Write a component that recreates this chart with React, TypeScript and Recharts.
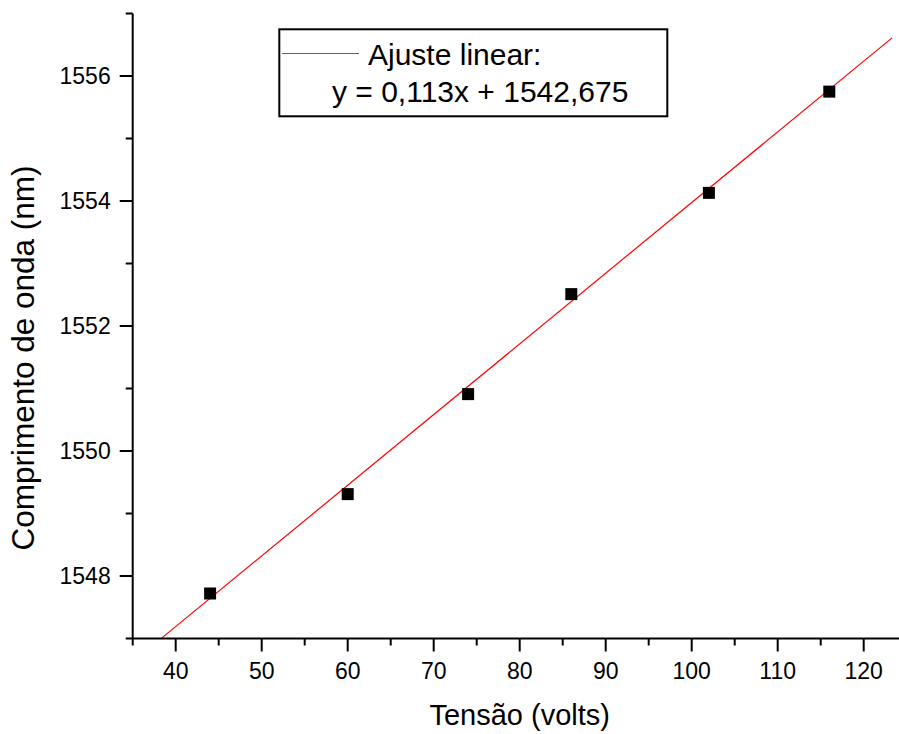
import React from 'react';
import { ComposedChart, Label, ReferenceLine, Scatter, XAxis, YAxis } from 'recharts';

// measured points (tension in volts, wavelength in nm)
const voltage = [44, 60, 74, 86, 102, 116];
const wavelength = [1547.72, 1549.31, 1550.91, 1552.51, 1554.13, 1555.75];

// ends of the fitted line as they appear on the plot
const fitX = [38.4, 123.3];
const fitY = [1547.01, 1556.61];

const xTicks = [35, 40, 45, 50, 55, 60, 65, 70, 75, 80, 85, 90, 95, 100, 105, 110, 115, 120, 125];
const yTicks = [1547, 1548, 1549, 1550, 1551, 1552, 1553, 1554, 1555, 1556, 1557];

const legendTitle = 'Ajuste linear:';
const legendEquation = 'y = 0,113x + 1542,675';

const FONT = '"Liberation Sans", Arial, sans-serif';

const points = voltage.map((v, i) => ({ x: v, y: wavelength[i] }));
const fitSegment = fitX.map((x, i) => ({ x, y: fitY[i] }));

const XTick = (props: any) => {
    const { x, y, payload } = props;
    const major = payload.value % 10 === 0;
    return (
        <g>
            <line x1={x} x2={x} y1={y} y2={y + (major ? 13 : 7)} stroke="#000" strokeWidth={2} />
            {major && (
                <text x={x} y={y + 40.5} textAnchor="middle" fontSize={23} fontFamily={FONT} fill="#000">
                    {payload.value}
                </text>
            )}
        </g>
    );
};

const YTick = (props: any) => {
    const { x, y, payload } = props;
    const major = payload.value % 2 === 0;
    return (
        <g>
            <line x1={x - (major ? 13 : 7)} x2={x} y1={y} y2={y} stroke="#000" strokeWidth={2} />
            {major && (
                <text x={x - 22} y={y + 8} textAnchor="end" fontSize={23} fontFamily={FONT} fill="#000">
                    {payload.value}
                </text>
            )}
        </g>
    );
};

const SquareMarker = (props: any) => {
    const { cx, cy } = props;
    return <rect x={cx - 6} y={cy - 6} width={12} height={12} fill="#000" />;
};

export default function App() {
    return (
        <div
            style={{
                position: 'absolute',
                left: 0,
                top: 0,
                width: 899,
                height: 734,
                overflow: 'hidden',
                background: '#fff',
                fontFamily: FONT,
            }}
        >
            <ComposedChart
                width={915}
                height={734}
                margin={{ top: 13.5, right: 8.3, bottom: 35.5, left: 62.7 }}
            >
                <XAxis
                    type="number"
                    dataKey="x"
                    domain={[35, 125]}
                    ticks={xTicks}
                    interval={0}
                    height={60}
                    tickSize={0}
                    tickMargin={0}
                    tick={<XTick />}
                    axisLine={{ stroke: '#000', strokeWidth: 2 }}
                    allowDataOverflow
                >
                    <Label
                        value="Tensão (volts)"
                        position="bottom"
                        offset={5.9}
                        fontSize={29}
                        fontFamily={FONT}
                        fill="#000"
                    />
                </XAxis>
                <YAxis
                    type="number"
                    dataKey="y"
                    domain={[1547, 1557]}
                    ticks={yTicks}
                    interval={0}
                    width={70}
                    tickSize={0}
                    tickMargin={0}
                    tick={<YTick />}
                    axisLine={{ stroke: '#000', strokeWidth: 2 }}
                    allowDataOverflow
                >
                    <Label
                        content={() => (
                            <text
                                transform="translate(34,358) rotate(-90)"
                                textAnchor="middle"
                                fontSize={31.5}
                                fontFamily={FONT}
                                fill="#000"
                            >
                                Comprimento de onda (nm)
                            </text>
                        )}
                    />
                </YAxis>
                <ReferenceLine segment={fitSegment} stroke="#ff0000" strokeWidth={1.2} />
                <Scatter data={points} dataKey="y" fill="#000" shape={SquareMarker} isAnimationActive={false} />
            </ComposedChart>
            <svg
                width={899}
                height={734}
                style={{ position: 'absolute', left: 0, top: 0, pointerEvents: 'none' }}
            >
                <rect x={279.3} y={29.3} width={388} height={87} fill="#fff" stroke="#000" strokeWidth={2} />
                <line x1={282} x2={359} y1={53.5} y2={53.5} stroke="#ff2020" strokeWidth={1} />
                <text x={368} y={65} fontSize={30} fontFamily={FONT} fill="#000">
                    {legendTitle}
                </text>
                <text x={332} y={101.7} fontSize={30} fontFamily={FONT} fill="#000">
                    {legendEquation}
                </text>
            </svg>
        </div>
    );
}
